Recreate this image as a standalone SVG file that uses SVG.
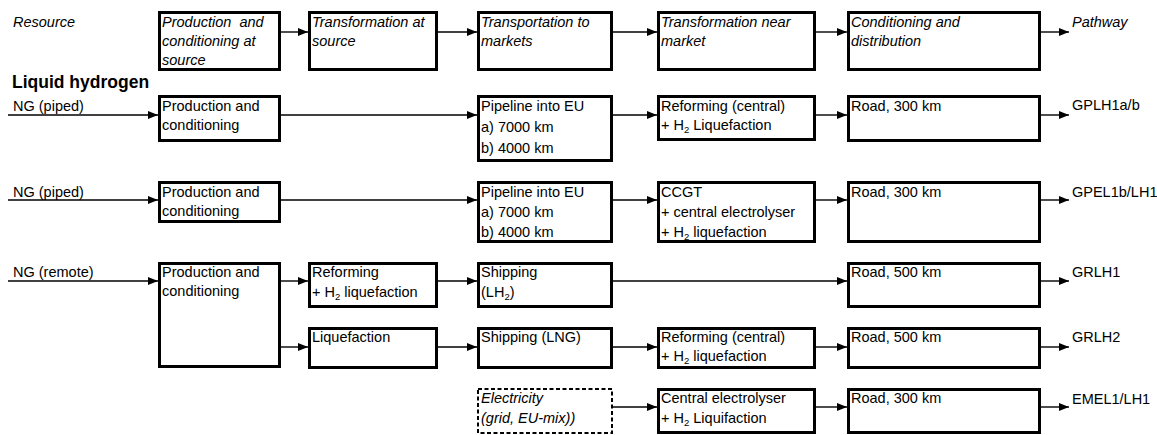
<svg xmlns="http://www.w3.org/2000/svg" width="1157" height="435" viewBox="0 0 1157 435">
  <style>
    .box { fill: #fff; stroke: #000; stroke-width: 3; }
    .dash { fill: #fff; stroke: #000; stroke-width: 2; stroke-dasharray: 4 2.5; }
    .t { font-family: "Liberation Sans", Arial, sans-serif; font-size: 14.5px; fill: #000; white-space: pre; }
    .it { font-style: italic; }
    .h { font-family: "Liberation Sans", Arial, sans-serif; font-size: 17.5px; font-weight: bold; fill: #000; }
    .sub { font-size: 9.5px; }
    .arr { stroke: #000; stroke-width: 1.4; fill: none; marker-end: url(#ah); }
  </style>
  <defs>
    <marker id="ah" markerUnits="userSpaceOnUse" markerWidth="10" markerHeight="8" refX="10" refY="4" orient="auto">
      <path d="M0,0 L10,4 L0,8 Z" fill="#000"/>
    </marker>
  </defs>
  <rect width="1157" height="435" fill="#fff"/>

  <!-- column headings -->
  <text class="t it" x="13" y="27">Resource</text>
  <g id="head-production">
    <rect class="box" x="159.5" y="12.5" width="120" height="57"/>
    <text class="t it" x="162" y="27">Production  and</text>
    <text class="t it" x="162" y="46">conditioning at</text>
    <text class="t it" x="162" y="65">source</text>
  </g>
  <g id="head-transformation-source">
    <rect class="box" x="309.5" y="12.5" width="127" height="57"/>
    <text class="t it" x="312" y="27">Transformation at</text>
    <text class="t it" x="312" y="46">source</text>
  </g>
  <g id="head-transport">
    <rect class="box" x="478.5" y="12.5" width="133" height="57"/>
    <text class="t it" x="481" y="27">Transportation to</text>
    <text class="t it" x="481" y="46">markets</text>
  </g>
  <g id="head-transformation-market">
    <rect class="box" x="658.5" y="12.5" width="156" height="57"/>
    <text class="t it" x="661" y="27">Transformation near</text>
    <text class="t it" x="661" y="46">market</text>
  </g>
  <g id="head-distribution">
    <rect class="box" x="848.5" y="12.5" width="191" height="57"/>
    <text class="t it" x="851" y="27">Conditioning and</text>
    <text class="t it" x="851" y="46">distribution</text>
  </g>
  <text class="t it" x="1072" y="27">Pathway</text>

  <text class="h" x="12" y="88">Liquid hydrogen</text>

  <!-- row 1: GPLH1a/b -->
  <text class="t" x="13" y="111">NG (piped)</text>
  <g id="r1-production">
    <rect class="box" x="159.5" y="96.5" width="120" height="44"/>
    <text class="t" x="162" y="111">Production and</text>
    <text class="t" x="162" y="130">conditioning</text>
  </g>
  <g id="r1-pipeline">
    <rect class="box" x="478.5" y="96.5" width="133" height="64"/>
    <text class="t" x="481" y="111">Pipeline into EU</text>
    <text class="t" x="481" y="132">a) 7000 km</text>
    <text class="t" x="481" y="153">b) 4000 km</text>
  </g>
  <g id="r1-reforming">
    <rect class="box" x="658.5" y="96.5" width="156" height="43"/>
    <text class="t" x="661" y="111">Reforming (central)</text>
    <text class="t" x="661" y="130">+ H<tspan class="sub" dy="3">2</tspan><tspan dy="-3"> Liquefaction</tspan></text>
  </g>
  <g id="r1-road">
    <rect class="box" x="848.5" y="96.5" width="191" height="44"/>
    <text class="t" x="851" y="111">Road, 300 km</text>
  </g>
  <text class="t" x="1072" y="110">GPLH1a/b</text>

  <!-- row 2: GPEL1b/LH1 -->
  <text class="t" x="13" y="197">NG (piped)</text>
  <g id="r2-production">
    <rect class="box" x="159.5" y="182.5" width="120" height="39"/>
    <text class="t" x="162" y="197">Production and</text>
    <text class="t" x="162" y="216">conditioning</text>
  </g>
  <g id="r2-pipeline">
    <rect class="box" x="478.5" y="182.5" width="133" height="59"/>
    <text class="t" x="481" y="197">Pipeline into EU</text>
    <text class="t" x="481" y="217">a) 7000 km</text>
    <text class="t" x="481" y="237">b) 4000 km</text>
  </g>
  <g id="r2-ccgt">
    <rect class="box" x="658.5" y="182.5" width="156" height="59"/>
    <text class="t" x="661" y="197">CCGT</text>
    <text class="t" x="661" y="217">+ central electrolyser</text>
    <text class="t" x="661" y="237">+ H<tspan class="sub" dy="3">2</tspan><tspan dy="-3"> liquefaction</tspan></text>
  </g>
  <g id="r2-road">
    <rect class="box" x="848.5" y="182.5" width="191" height="59"/>
    <text class="t" x="851" y="197">Road, 300 km</text>
  </g>
  <text class="t" x="1072" y="197">GPEL1b/LH1</text>

  <!-- rows 3 and 4: remote NG -->
  <text class="t" x="13" y="277">NG (remote)</text>
  <g id="r3-production">
    <rect class="box" x="159.5" y="263.5" width="120" height="103"/>
    <text class="t" x="162" y="277">Production and</text>
    <text class="t" x="162" y="296">conditioning</text>
  </g>
  <g id="r3-reforming">
    <rect class="box" x="309.5" y="263.5" width="127" height="43"/>
    <text class="t" x="312" y="277">Reforming</text>
    <text class="t" x="312" y="297">+ H<tspan class="sub" dy="3">2</tspan><tspan dy="-3"> liquefaction</tspan></text>
  </g>
  <g id="r3-shipping">
    <rect class="box" x="478.5" y="263.5" width="133" height="43"/>
    <text class="t" x="481" y="277">Shipping</text>
    <text class="t" x="481" y="297">(LH<tspan class="sub" dy="3">2</tspan><tspan dy="-3">)</tspan></text>
  </g>
  <g id="r3-road">
    <rect class="box" x="848.5" y="263.5" width="191" height="43"/>
    <text class="t" x="851" y="277">Road, 500 km</text>
  </g>
  <text class="t" x="1072" y="277">GRLH1</text>

  <g id="r4-liquefaction">
    <rect class="box" x="309.5" y="328.5" width="127" height="39"/>
    <text class="t" x="312" y="342">Liquefaction</text>
  </g>
  <g id="r4-shipping">
    <rect class="box" x="478.5" y="328.5" width="133" height="39"/>
    <text class="t" x="481" y="342">Shipping (LNG)</text>
  </g>
  <g id="r4-reforming">
    <rect class="box" x="658.5" y="328.5" width="156" height="39"/>
    <text class="t" x="661" y="342">Reforming (central)</text>
    <text class="t" x="661" y="361">+ H<tspan class="sub" dy="3">2</tspan><tspan dy="-3"> liquefaction</tspan></text>
  </g>
  <g id="r4-road">
    <rect class="box" x="848.5" y="328.5" width="191" height="39"/>
    <text class="t" x="851" y="342">Road, 500 km</text>
  </g>
  <text class="t" x="1072" y="342">GRLH2</text>

  <!-- row 5: grid electricity -->
  <g id="r5-electricity">
    <rect class="dash" x="478" y="389" width="134" height="44"/>
    <text class="t it" x="481" y="403">Electricity</text>
    <text class="t it" x="481" y="423">(grid, EU-mix))</text>
  </g>
  <g id="r5-electrolyser">
    <rect class="box" x="658.5" y="389.5" width="156" height="43"/>
    <text class="t" x="661" y="403">Central electrolyser</text>
    <text class="t" x="661" y="423">+ H<tspan class="sub" dy="3">2</tspan><tspan dy="-3"> Liquifaction</tspan></text>
  </g>
  <g id="r5-road">
    <rect class="box" x="848.5" y="389.5" width="191" height="43"/>
    <text class="t" x="851" y="403">Road, 300 km</text>
  </g>
  <text class="t" x="1072" y="404">EMEL1/LH1</text>

  <!-- connectors -->
  <g id="connectors">
    <line class="arr" x1="281" y1="32" x2="308" y2="32"/>
    <line class="arr" x1="438" y1="32" x2="477" y2="32"/>
    <line class="arr" x1="613" y1="32" x2="657" y2="32"/>
    <line class="arr" x1="816" y1="32" x2="847" y2="32"/>
    <line class="arr" x1="1041" y1="32" x2="1069" y2="32"/>

    <line class="arr" x1="8" y1="115" x2="158" y2="115"/>
    <line class="arr" x1="281" y1="115" x2="477" y2="115"/>
    <line class="arr" x1="613" y1="115" x2="657" y2="115"/>
    <line class="arr" x1="816" y1="115" x2="847" y2="115"/>
    <line class="arr" x1="1041" y1="115" x2="1069" y2="115"/>

    <line class="arr" x1="8" y1="200" x2="158" y2="200"/>
    <line class="arr" x1="281" y1="200" x2="477" y2="200"/>
    <line class="arr" x1="613" y1="200" x2="657" y2="200"/>
    <line class="arr" x1="816" y1="200" x2="847" y2="200"/>
    <line class="arr" x1="1041" y1="200" x2="1069" y2="200"/>

    <line class="arr" x1="8" y1="281" x2="158" y2="281"/>
    <line class="arr" x1="281" y1="281" x2="308" y2="281"/>
    <line class="arr" x1="438" y1="281" x2="477" y2="281"/>
    <line class="arr" x1="613" y1="281" x2="847" y2="281"/>
    <line class="arr" x1="1041" y1="281" x2="1069" y2="281"/>

    <line class="arr" x1="281" y1="347" x2="308" y2="347"/>
    <line class="arr" x1="438" y1="347" x2="477" y2="347"/>
    <line class="arr" x1="613" y1="347" x2="657" y2="347"/>
    <line class="arr" x1="816" y1="347" x2="847" y2="347"/>
    <line class="arr" x1="1041" y1="347" x2="1069" y2="347"/>

    <line class="arr" x1="613" y1="407" x2="657" y2="407"/>
    <line class="arr" x1="816" y1="407" x2="847" y2="407"/>
    <line class="arr" x1="1041" y1="407" x2="1069" y2="407"/>
  </g>
</svg>
